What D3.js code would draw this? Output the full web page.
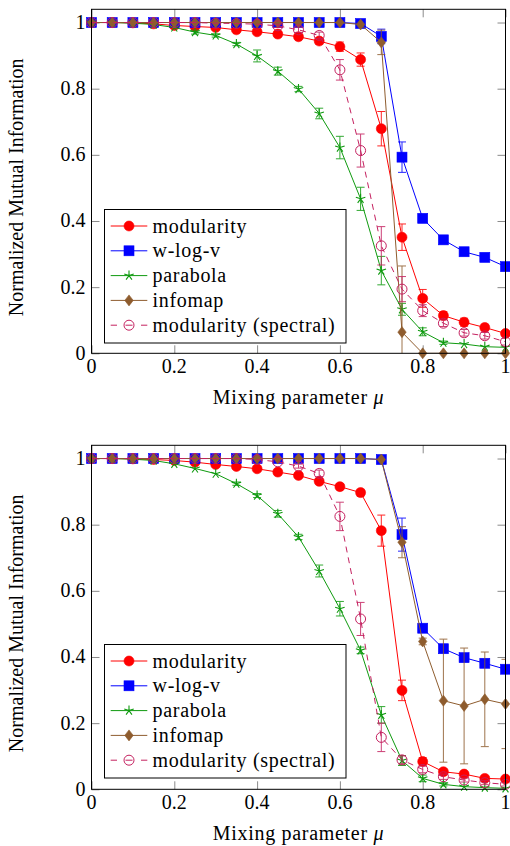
<!DOCTYPE html>
<html><head><meta charset="utf-8">
<script src="https://cdn.jsdelivr.net/npm/d3@7"></script>
<style>
body{margin:0;background:#fff}
text{font-family:"Liberation Serif","Times New Roman",serif;fill:#000}
</style>
</head><body>
<svg id="c" width="510" height="846"></svg>
<script>
// ---------- data ----------
const mu = [0,0.05,0.1,0.15,0.2,0.25,0.3,0.35,0.4,0.45,0.5,0.55,0.6,0.65,0.7,0.75,0.8,0.85,0.9,0.95,1];
const xTickValues = [0,0.2,0.4,0.6,0.8,1];
const xTickLabels = ["0","0.2","0.4","0.6","0.8","1"];
const yTickValues = [0,0.2,0.4,0.6,0.8,1];
const yTickLabels = ["0","0.2","0.4","0.6","0.8","1"];
const seriesNames = ["modularity","w-log-v","parabola","infomap","modularity (spectral)"];
const xTitle = "Mixing parameter ";
const xTitleSymbol = "μ";
const yTitle = "Normalized Mutual Information";

// top panel
const topModularity    = [1,1,0.999,0.996,0.991,0.988,0.985,0.978,0.972,0.965,0.957,0.944,0.927,0.888,0.679,0.351,0.166,0.114,0.094,0.078,0.060];
const topModularityErr = [0,0,0.002,0.002,0.003,0.003,0.004,0.005,0.006,0.006,0.007,0.009,0.014,0.020,0.052,0.040,0.027,0.012,0.012,0.010,0.008];
const topWlogv         = [1,1,1,1,1,1,1,1,1,1,1,1,1,0.997,0.958,0.593,0.408,0.343,0.307,0.290,0.262];
const topWlogvErr      = [0,0,0,0,0,0,0,0,0,0,0,0,0,0.002,0.022,0.046,0.010,0.010,0.008,0.008,0.006];
const topParabola      = [1,1,0.998,0.994,0.985,0.971,0.961,0.935,0.899,0.853,0.799,0.725,0.622,0.467,0.250,0.133,0.065,0.032,0.028,0.020,0.018];
const topParabolaErr   = [0,0,0.002,0.003,0.004,0.006,0.005,0.005,0.018,0.012,0.008,0.016,0.034,0.035,0.043,0.018,0.012,0.005,0.004,0.004,0.003];
const topInfomap       = [1,1,1,1,1,1,1,1,1,1,1,1,1,0.994,0.940,0.064,0,0,0,0,0];
const topInfomapErr    = [0,0,0,0,0,0,0,0,0,0,0,0,0,0.003,0.037,0.200,0,0,0,0,0];
const topSpectral      = [1,1,1,1,1,1,0.998,0.997,0.995,0.990,0.978,0.961,0.857,0.613,0.325,0.194,0.129,0.091,0.062,0.053,0.035];
const topSpectralErr   = [0,0,0,0,0,0,0.002,0.003,0.003,0.005,0.008,0.010,0.031,0.050,0.058,0.038,0.018,0.010,0.010,0.010,0.010];

// bottom panel
const botModularity    = [1,1,0.999,0.997,0.994,0.989,0.982,0.976,0.969,0.959,0.949,0.931,0.915,0.897,0.782,0.299,0.084,0.053,0.046,0.033,0.031];
const botModularityErr = [0,0,0.002,0.002,0.003,0.003,0.004,0.004,0.005,0.006,0.006,0.008,0.008,0.010,0.047,0.031,0.012,0.008,0.006,0.005,0.005];
const botWlogv         = [1,1,1,1,1,1,1,1,1,1,1,1,1,1,0.997,0.770,0.487,0.425,0.398,0.381,0.363];
const botWlogvErr      = [0,0,0,0,0,0,0,0,0,0,0,0,0,0,0.003,0.050,0.010,0.010,0.010,0.010,0.010];
const botParabola      = [1,1,0.998,0.994,0.984,0.970,0.954,0.924,0.888,0.833,0.763,0.660,0.546,0.420,0.225,0.087,0.033,0.015,0.008,0.005,0.003];
const botParabolaErr   = [0,0,0.002,0.003,0.003,0.004,0.004,0.005,0.006,0.010,0.008,0.018,0.022,0.010,0.025,0.015,0.010,0.005,0.004,0.003,0.003];
const botInfomap       = [1,1,1,1,1,1,1,1,1,1,1,1,1,1,0.997,0.747,0.447,0.268,0.252,0.272,0.258];
const botInfomapErr    = [0,0,0,0,0,0,0,0,0,0,0,0,0,0,0.003,0.047,0.010,0.186,0.175,0.143,0.135];
const botSpectral      = [1,1,1,1,1,1,1,1,0.997,0.990,0.977,0.955,0.825,0.515,0.157,0.089,0.060,0.038,0.028,0.020,0.015];
const botSpectralErr   = [0,0,0,0,0,0,0,0,0.002,0.004,0.006,0.010,0.043,0.050,0.043,0.012,0.010,0.008,0.006,0.006,0.005];

// ---------- styles ----------
const colors = ["#ff0000","#0000ff","#0f9a0f","#8e5c2e","#c4205f"];
const marks  = ["circle","square","star","diamond","ocircle"];

const svg = d3.select("#c");
const X0 = 91.5, X1 = 505.5;
const FONT = 20;
const SPACING = 0.7;

function drawMark(g, type, cx, cy, color){
  if(type==="circle"){
    g.append("circle").attr("cx",cx).attr("cy",cy).attr("r",5).attr("fill",color).attr("stroke",color).attr("stroke-width",0.6);
  } else if(type==="ocircle"){
    g.append("circle").attr("cx",cx).attr("cy",cy).attr("r",5).attr("fill","none").attr("stroke",color).attr("stroke-width",1);
  } else if(type==="square"){
    g.append("rect").attr("x",cx-5).attr("y",cy-5).attr("width",10).attr("height",10).attr("fill",color).attr("stroke",color).attr("stroke-width",0.6);
  } else if(type==="diamond"){
    g.append("path").attr("d",`M${cx},${cy-5.5}L${cx+4.2},${cy}L${cx},${cy+5.5}L${cx-4.2},${cy}Z`).attr("fill",color).attr("stroke",color).attr("stroke-width",0.6);
  } else if(type==="star"){
    let d="";
    for(let k=0;k<5;k++){
      const a = -Math.PI/2 + k*2*Math.PI/5;
      d += `M${cx},${cy}L${cx+5*Math.cos(a)},${cy+5*Math.sin(a)}`;
    }
    g.append("path").attr("d",d).attr("fill","none").attr("stroke",color).attr("stroke-width",1.1);
  }
}

function panel(id, yZero, series, errs, legendTop){
  const y = d3.scaleLinear().domain([0,1.04]).range([yZero, yZero-344]);
  const x = d3.scaleLinear().domain([0,1]).range([X0,X1]);
  const g = svg.append("g");

  g.append("clipPath").attr("id","clip"+id).append("rect")
    .attr("x",X0).attr("y",y(1.04)).attr("width",X1-X0).attr("height",yZero-y(1.04));

  const tickCol = "#8a8a8a";
  const ax = [
    g.append("g").attr("transform",`translate(0,${yZero})`).call(d3.axisBottom(x).tickValues(xTickValues).tickSize(-8).tickFormat("")),
    g.append("g").attr("transform",`translate(0,${y(1.04)})`).call(d3.axisTop(x).tickValues(xTickValues).tickSize(-8).tickFormat("")),
    g.append("g").attr("transform",`translate(${X0},0)`).call(d3.axisLeft(y).tickValues(yTickValues).tickSize(-8).tickFormat("")),
    g.append("g").attr("transform",`translate(${X1},0)`).call(d3.axisRight(y).tickValues(yTickValues).tickSize(-8).tickFormat(""))
  ];
  ax.forEach(a=>{a.select(".domain").remove(); a.selectAll("line").attr("stroke",tickCol).attr("stroke-width",1);});

  g.selectAll(".xl").data(xTickValues).enter().append("text")
    .attr("x",d=>x(d)).attr("y",yZero+20).attr("text-anchor","middle")
    .attr("font-size",FONT).text((d,i)=>xTickLabels[i]);
  g.selectAll(".yl").data(yTickValues).enter().append("text")
    .attr("x",X0-6).attr("y",d=>y(d)+6.5).attr("text-anchor","end")
    .attr("font-size",FONT).text((d,i)=>yTickLabels[i]);

  const t = g.append("text").attr("x",(X0+X1)/2).attr("y",yZero+50.5).attr("text-anchor","middle")
    .attr("font-size",FONT).attr("letter-spacing",SPACING);
  t.append("tspan").text(xTitle);
  t.append("tspan").attr("font-style","italic").text(xTitleSymbol);
  g.append("text").attr("transform",`translate(23,${(yZero+y(1.04))/2+6}) rotate(-90)`)
    .attr("text-anchor","middle").attr("font-size",FONT).text(yTitle);

  const line = d3.line().x((d,i)=>x(mu[i])).y(d=>y(d));
  series.forEach((s,k)=>{
    const col = colors[k];
    const sg = g.append("g");
    const cg = sg.append("g").attr("clip-path",`url(#clip${id})`);
    cg.append("path").attr("d",line(s)).attr("fill","none").attr("stroke",col).attr("stroke-width",1)
      .attr("stroke-dasharray", k===4 ? "6,5" : null);
    s.forEach((v,i)=>{
      const e = errs[k][i];
      if(e<=0.004) return;
      const xi = x(mu[i]), y1 = y(v+e), y2 = y(v-e);
      const eb = cg.append("g").attr("stroke",col).attr("stroke-width",1).attr("opacity",0.85);
      eb.append("line").attr("x1",xi).attr("x2",xi).attr("y1",y1).attr("y2",y2);
      eb.append("line").attr("x1",xi-4).attr("x2",xi+4).attr("y1",y1).attr("y2",y1);
      eb.append("line").attr("x1",xi-4).attr("x2",xi+4).attr("y1",y2).attr("y2",y2);
    });
    s.forEach((v,i)=>drawMark(sg, marks[k], x(mu[i]), y(v), col));
  });

  g.append("rect").attr("x",X0).attr("y",y(1.04)).attr("width",X1-X0).attr("height",yZero-y(1.04))
    .attr("fill","none").attr("stroke","#000").attr("stroke-width",1);

  const lx = 104.5, lw = 241.5, lh = 133.5;
  const lg = g.append("g");
  lg.append("rect").attr("x",lx).attr("y",legendTop).attr("width",lw).attr("height",lh)
    .attr("fill","#fff").attr("stroke","#000").attr("stroke-width",1);
  seriesNames.forEach((n,k)=>{
    const cy = legendTop + 16.5 + k*24.8;
    const col = colors[k];
    if(k===4){
      lg.append("line").attr("x1",110.7).attr("x2",117).attr("y1",cy).attr("y2",cy).attr("stroke",col);
      lg.append("line").attr("x1",125.5).attr("x2",132.5).attr("y1",cy).attr("y2",cy).attr("stroke",col);
      lg.append("line").attr("x1",141).attr("x2",147.3).attr("y1",cy).attr("y2",cy).attr("stroke",col);
    } else {
      lg.append("line").attr("x1",110.7).attr("x2",147.3).attr("y1",cy).attr("y2",cy).attr("stroke",col).attr("stroke-width",1);
    }
    drawMark(lg, marks[k], 129, cy, col);
    lg.append("text").attr("x",152.5).attr("y",cy+6.5).attr("font-size",FONT)
      .attr("letter-spacing",SPACING).text(n);
  });
}

panel("top", 353.3,
  [topModularity, topWlogv, topParabola, topInfomap, topSpectral],
  [topModularityErr, topWlogvErr, topParabolaErr, topInfomapErr, topSpectralErr], 209.5);
panel("bot", 789.3,
  [botModularity, botWlogv, botParabola, botInfomap, botSpectral],
  [botModularityErr, botWlogvErr, botParabolaErr, botInfomapErr, botSpectralErr], 644.5);
</script>
</body></html>
